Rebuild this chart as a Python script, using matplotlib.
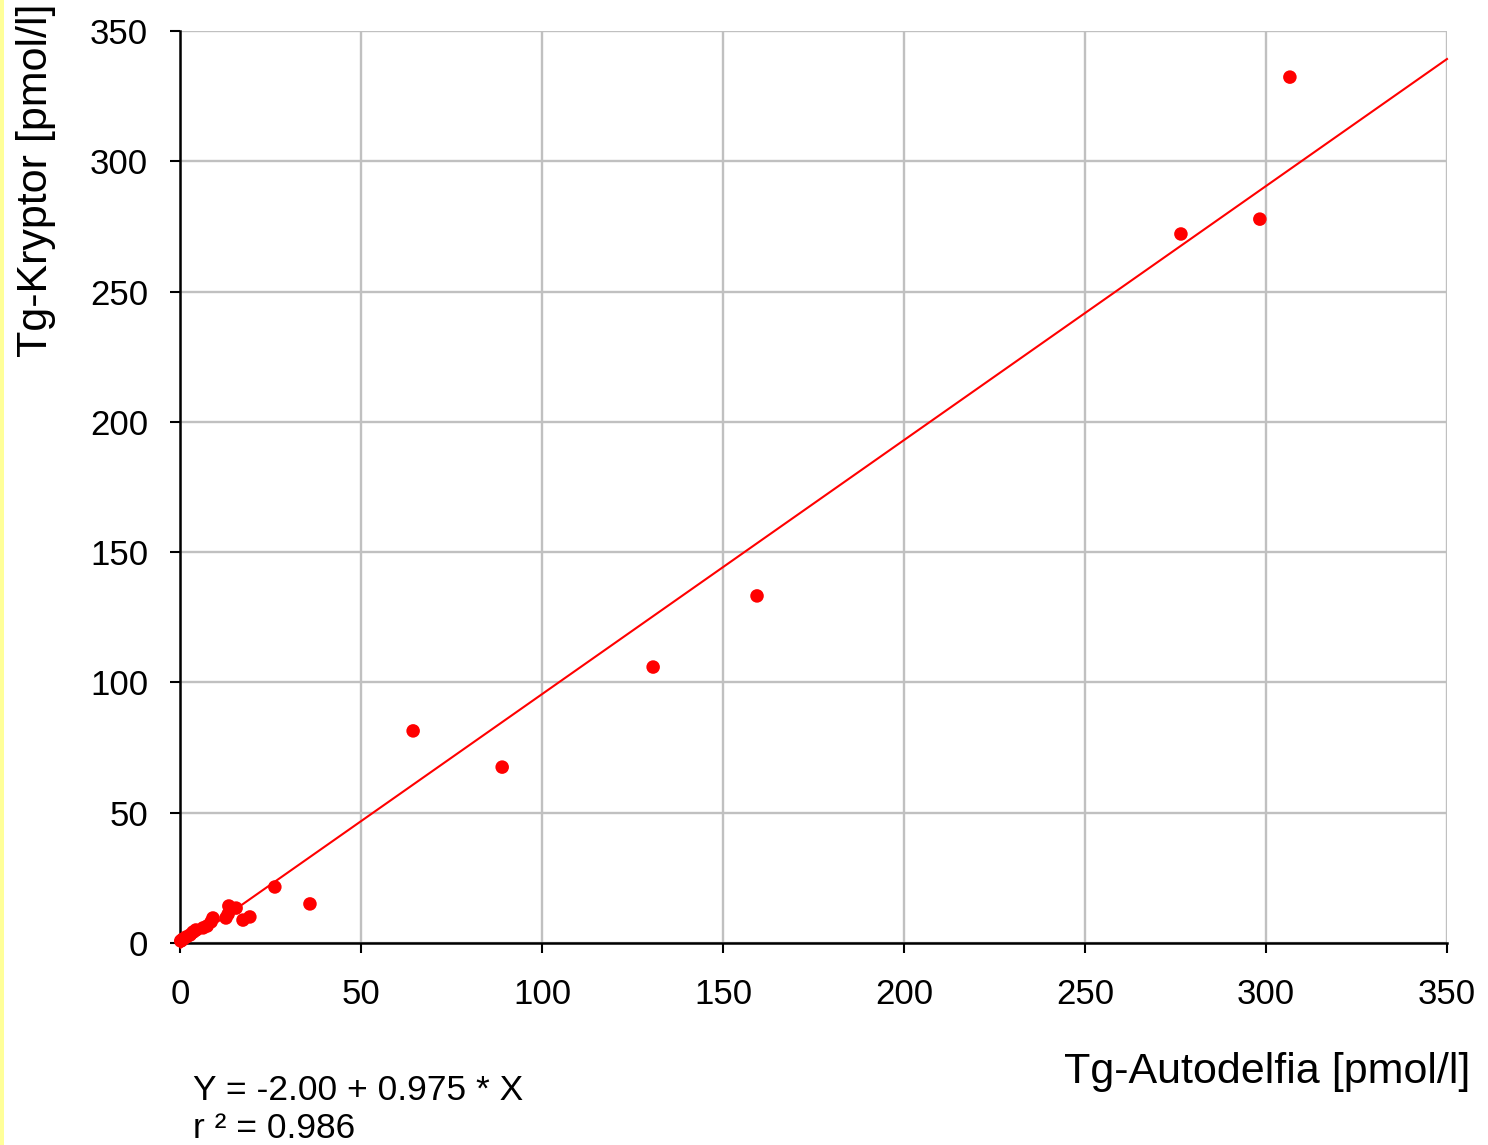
import matplotlib
matplotlib.use("Agg")
import matplotlib.pyplot as plt
from matplotlib.patches import Rectangle
import numpy as np

plt.rcParams['font.family'] = ['Liberation Sans', 'DejaVu Sans']

# Data (Tg-Autodelfia vs Tg-Kryptor, pmol/l)
x_vals = [306.6, 276.5, 298.3, 159.4, 130.7, 64.4, 89.0, 35.9, 26.2, 19.3,
          17.4, 15.5, 13.5, 13.3, 12.7, 9.1, 8.6, 7.5, 6.4, 4.4,
          3.6, 2.8, 1.7, 0.8, 0.2, 0.5]
y_vals = [332.3, 272.1, 277.8, 133.2, 105.9, 81.4, 67.5, 15.0, 21.5, 10.0,
          8.8, 13.4, 14.2, 11.1, 9.6, 9.6, 8.1, 6.5, 5.8, 5.0,
          4.2, 3.1, 2.3, 1.5, 0.8, 1.0]
intercept = -2.00
slope = 0.975
r2 = 0.986
ticks = [0, 50, 100, 150, 200, 250, 300, 350]

W, H = 1488, 1145
fig = plt.figure(figsize=(W / 100, H / 100), dpi=100)
fig.patches.append(Rectangle((0, 0), 4 / W, 1, transform=fig.transFigure,
                             facecolor='#ffff99', edgecolor='none', zorder=0))

ax = fig.add_axes([180 / W, 1 - 943 / H, (1447 - 180) / W, (943 - 31) / H])
ax.set_xlim(0, 350)
ax.set_ylim(0, 350)
ax.set_xticks(ticks)
ax.set_yticks(ticks)
ax.grid(True, color='#c0c0c0', linewidth=1.7, zorder=0)
ax.set_axisbelow(True)
for s in ['top', 'right']:
    ax.spines[s].set_visible(False)
for s in ['left', 'bottom']:
    ax.spines[s].set_linewidth(1.8)
    ax.spines[s].set_color('black')
ax.tick_params(axis='both', direction='out', length=7, width=1.5, labelsize=25)
ax.tick_params(axis='y', pad=16)
ax.tick_params(axis='x', pad=18)

xl = np.array([min(x_vals), 350])
ax.plot(xl, intercept + slope * xl, color='#ff0000', linewidth=1.5, zorder=3, clip_on=False)
ax.scatter(x_vals, y_vals, s=95, color='#ff0000', edgecolors='none', zorder=4, clip_on=False)

fig.text(1470 / W, 1 - 1072 / H, 'Tg-Autodelfia [pmol/l]', ha='right', va='center', fontsize=31)
fig.text(36 / W, 1 - 180 / H, 'Tg-Kryptor [pmol/l]', ha='center', va='center',
         rotation=90, fontsize=31)
fig.text(193 / W, 1 - 1090 / H, f'Y = {intercept:.2f} + {slope:.3f} * X', ha='left', va='center', fontsize=25.5)
fig.text(193 / W, 1 - 1128 / H, f'r ² = {r2:.3f}', ha='left', va='center', fontsize=25.5)

fig.savefig('out.png', dpi=100)
